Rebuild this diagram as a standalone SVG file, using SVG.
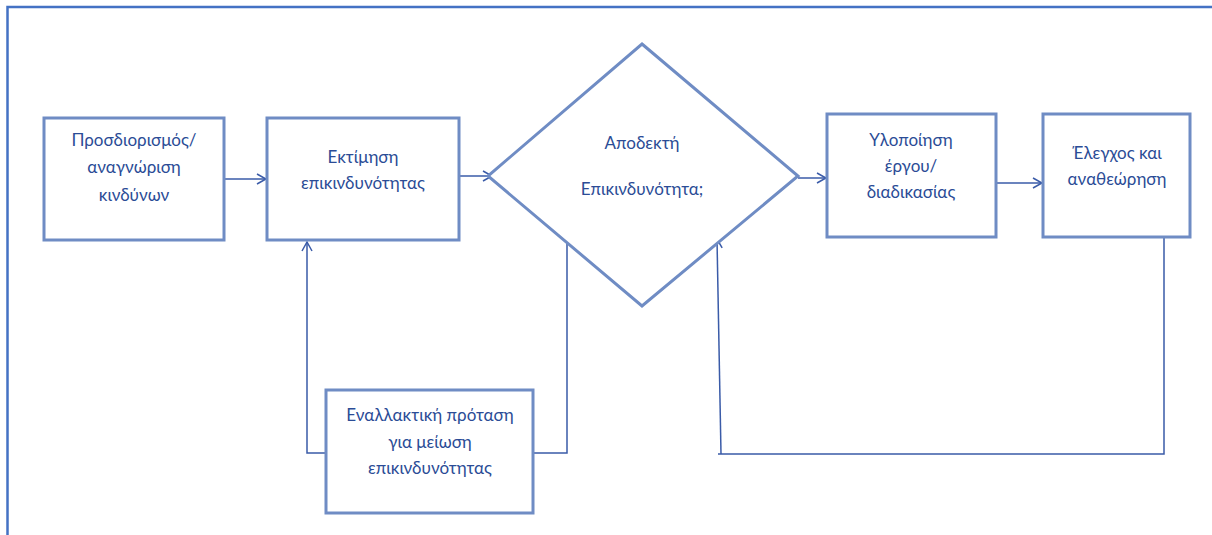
<svg xmlns="http://www.w3.org/2000/svg" width="1212" height="535" viewBox="0 0 1212 535">
<defs>
<style>
.frame{fill:none;stroke:#4472C4;stroke-width:2.5}
.node{fill:#ffffff;stroke:#6F8CC4;stroke-width:3}
.conn{fill:none;stroke:#3A5BA8;stroke-width:1.5}
.lbl{font-family:Lato,"Open Sans","Liberation Sans",sans-serif;font-size:17px;fill:#2B4C96;text-anchor:middle}
</style>
<marker id="arr" markerWidth="12" markerHeight="12" refX="10" refY="6" orient="auto" markerUnits="userSpaceOnUse">
<path d="M1,1 L10,6 L1,11" fill="none" stroke="#3A5BA8" stroke-width="1.5"/>
</marker>
</defs>
<rect width="1212" height="535" fill="#ffffff"/>
<path class="frame" d="M7.5,535 L7.5,7 L1212,7"/>
<g id="connectors">
<line class="conn" x1="224" y1="179" x2="266" y2="179" marker-end="url(#arr)"/>
<line class="conn" x1="459" y1="176" x2="492" y2="176" marker-end="url(#arr)"/>
<line class="conn" x1="798" y1="178" x2="826" y2="178" marker-end="url(#arr)"/>
<line class="conn" x1="996" y1="183" x2="1042" y2="183" marker-end="url(#arr)"/>
<polyline class="conn" points="1164,237 1164,454 718,454"/>
<line class="conn" x1="721" y1="454" x2="717" y2="239" marker-end="url(#arr)"/>
<polyline class="conn" points="326,453 307,453 307,242" marker-end="url(#arr)"/>
<polyline class="conn" points="533,453 567,453 567,242"/>
</g>
<g id="n1">
<rect class="node" x="44" y="118" width="180" height="122"/>
<text class="lbl" x="134" y="146">Προσδιορισμός/</text>
<text class="lbl" x="134" y="173">αναγνώριση</text>
<text class="lbl" x="134" y="201">κινδύνων</text>
</g>
<g id="n2">
<rect class="node" x="267" y="118" width="192" height="122"/>
<text class="lbl" x="363" y="163">Εκτίμηση</text>
<text class="lbl" x="363" y="189">επικινδυνότητας</text>
</g>
<g id="n3">
<polygon class="node" points="642,44 798,176 642,306 488,176"/>
<text class="lbl" x="642" y="149">Αποδεκτή</text>
<text class="lbl" x="642" y="195">Επικινδυνότητα;</text>
</g>
<g id="n4">
<rect class="node" x="827" y="114" width="169" height="123"/>
<text class="lbl" x="911" y="146">Υλοποίηση</text>
<text class="lbl" x="911" y="172">έργου/</text>
<text class="lbl" x="911" y="198">διαδικασίας</text>
</g>
<g id="n5">
<rect class="node" x="1043" y="114" width="147" height="123"/>
<text class="lbl" x="1117" y="159">Έλεγχος και</text>
<text class="lbl" x="1117" y="185">αναθεώρηση</text>
</g>
<g id="n6">
<rect class="node" x="326" y="390" width="207" height="123"/>
<text class="lbl" x="430" y="421">Εναλλακτική πρόταση</text>
<text class="lbl" x="430" y="448">για μείωση</text>
<text class="lbl" x="430" y="474">επικινδυνότητας</text>
</g>
</svg>
